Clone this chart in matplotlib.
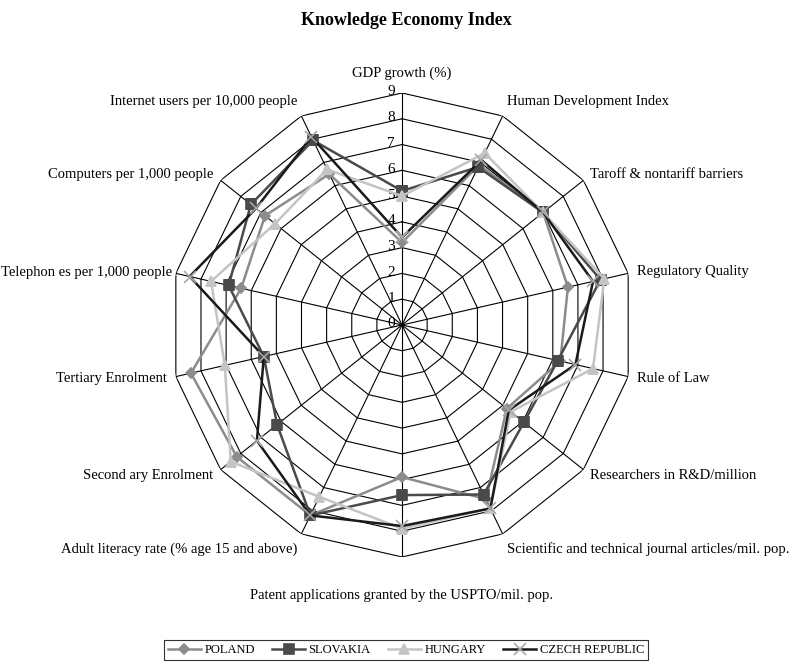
####################################
# radar chart: Knowledge Economy Index
####################################

import numpy as np
import matplotlib.pyplot as plt
from matplotlib.transforms import offset_copy

plt.rcParams['font.family'] = ['Liberation Serif', 'DejaVu Serif']

categories = [
    "GDP growth (%)",
    "Human Development Index",
    "Taroff & nontariff barriers",
    "Regulatory Quality",
    "Rule of Law",
    "Researchers in R&D/million",
    "Scientific and technical journal articles/mil. pop.",
    "Patent applications granted by the USPTO/mil. pop.",
    "Adult literacy rate (% age 15 and above)",
    "Second ary Enrolment",
    "Tertiary Enrolment",
    "Telephon es per 1,000 people",
    "Computers per 1,000 people",
    "Internet users per 10,000 people",
]

poland   = [3.2, 6.9, 7.0, 6.6, 6.3, 5.2, 7.5, 5.9, 8.2, 8.2, 8.4, 6.4, 6.8, 6.5]
slovakia = [5.2, 6.8, 7.0, 7.9, 6.2, 6.05, 7.3, 6.6, 8.2, 6.2, 5.5, 6.9, 7.5, 7.95]
hungary  = [5.0, 7.4, 7.0, 8.05, 7.6, 5.4, 7.9, 7.9, 7.4, 8.5, 7.05, 7.6, 6.3, 6.7]
czech    = [3.4, 7.1, 7.0, 7.6, 6.9, 5.3, 7.9, 7.8, 8.2, 7.2, 5.5, 8.45, 7.25, 8.1]

series_names = ["POLAND", "SLOVAKIA", "HUNGARY", "CZECH REPUBLIC"]
ticks = list(range(0, 10))

n = len(categories)
angles = np.linspace(0, 2 * np.pi, n, endpoint=False)
closed = np.append(angles, angles[0])

fig = plt.figure(figsize=(8.12, 6.66), dpi=100)
ax = fig.add_axes([0.2094, 0.1637, 0.5714, 0.6967], projection='polar')
ax.set_theta_zero_location('N')
ax.set_theta_direction(-1)
ax.set_ylim(0, 9)
ax.grid(False)
ax.spines['polar'].set_visible(False)
ax.set_xticks([])
ax.set_yticks([])
ax.patch.set_visible(False)

# polygon grid
for k in ticks[1:]:
    ax.plot(closed, [k] * (n + 1), color='black', lw=0.8, zorder=1)
for a in angles:
    ax.plot([a, a], [0, 9], color='black', lw=0.8, zorder=1)

# tick labels along the top spoke
off = offset_copy(ax.transData, fig=fig, x=-7, y=1, units='dots')
for k in ticks:
    ax.text(0, k, str(k), transform=off, ha='right', va='center', fontsize=11)

# category labels
for a, lab in zip(angles, categories):
    s = np.sin(a)
    if abs(s) < 0.1:
        ha = 'center'
    elif s > 0:
        ha = 'left'
    else:
        ha = 'right'
    r = 9.35
    va = 'center'
    if lab.startswith("GDP"):
        r, va = 9.5, 'bottom'
    elif lab.startswith("Patent"):
        r = 10.5
    elif lab.startswith("Telephon"):
        r = 9.15
    elif np.cos(a) > 0.8:
        va = 'bottom'
    elif np.cos(a) < -0.8:
        va = 'top'
    ax.text(a, r, lab, ha=ha, va=va, fontsize=10.5, clip_on=False)

styles = [
    (poland, '#8c8c8c', 'D', '#8c8c8c', 5),
    (slovakia, '#4a4a4a', 's', '#4a4a4a', 6.5),
    (hungary, '#c4c4c4', '^', '#c4c4c4', 7),
    (czech, '#1a1a1a', 'x', '#a8a8a8', 8),
]
for (vals, col, mk, mcol, ms), name in zip(styles, series_names):
    v = np.append(vals, vals[0])
    ax.plot(closed, v, color=col, lw=1.8, marker=mk, markersize=ms,
            markerfacecolor=mcol, markeredgecolor=mcol, markeredgewidth=1.2,
            label=name, zorder=3)

fig.suptitle("Knowledge Economy Index", fontsize=13, fontweight='bold', y=0.982)

leg = fig.legend(loc='center', bbox_to_anchor=(406 / 812, 1 - 650 / 666), ncol=4,
                 frameon=True, fancybox=False, edgecolor='black', fontsize=9,
                 handlelength=2.6, columnspacing=1.4, handletextpad=0.3,
                 borderpad=0.35)
leg.get_frame().set_linewidth(0.8)

plt.savefig("out.png", dpi=100)
